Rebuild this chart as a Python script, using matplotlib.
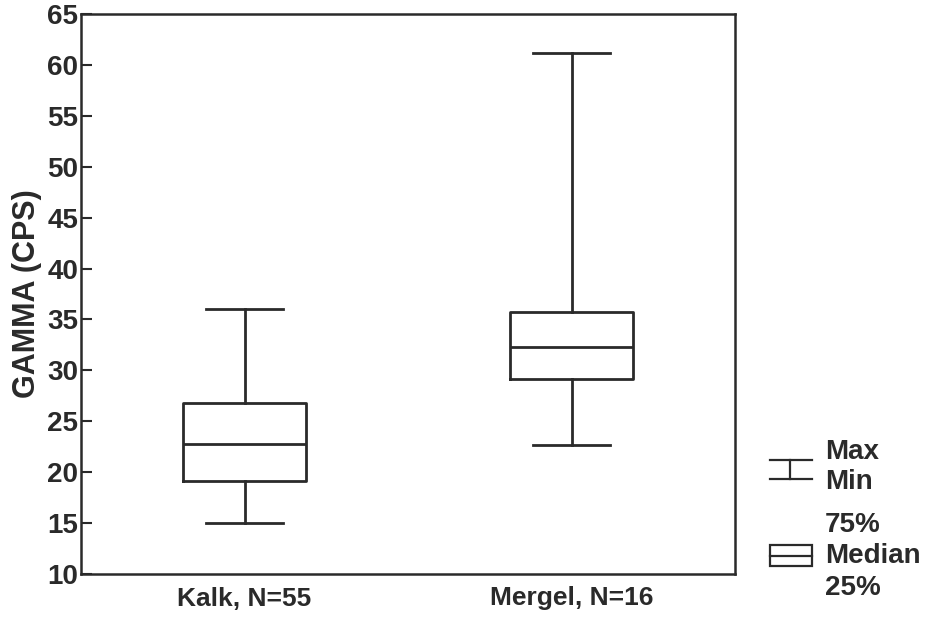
import matplotlib
matplotlib.use("Agg")
import matplotlib.pyplot as plt
from matplotlib.lines import Line2D
from matplotlib.patches import Rectangle

categories = ["Kalk, N=55", "Mergel, N=16"]
mins = [15.0, 22.7]
q1s = [19.15, 29.2]
medians = [22.8, 32.25]
q3s = [26.8, 35.75]
maxs = [36.0, 61.2]
yticks = [10, 15, 20, 25, 30, 35, 40, 45, 50, 55, 60, 65]

plt.rcParams['font.family'] = ['Liberation Sans', 'DejaVu Sans']
plt.rcParams['font.weight'] = 'bold'

fig = plt.figure(figsize=(9.31, 6.17), dpi=100)
W, H = 931, 617
ax = fig.add_axes([81 / W, 1 - 574 / H, (735 - 81) / W, (574 - 14) / H])

col = '#2a2a2a'
stats = []
for lab, lo, a, m, b, hi in zip(categories, mins, q1s, medians, q3s, maxs):
    stats.append(dict(label=lab, whislo=lo, q1=a, med=m, q3=b, whishi=hi, fliers=[]))

lp = dict(color=col, linewidth=2.0)
ax.bxp(stats, positions=[1, 2], widths=0.376, capwidths=0.235, showfliers=False,
       boxprops=lp, whiskerprops=lp, capprops=lp, medianprops=lp)

ax.set_xlim(0.5, 2.5)
ax.set_ylim(10, 65)
ax.set_yticks(yticks)
ax.set_yticklabels([str(t) for t in yticks], fontsize=20, fontweight='bold', color=col)
ax.set_xticks([1, 2])
ax.set_xticklabels(categories, fontsize=19, fontweight='bold', color=col)
ax.tick_params(axis='x', length=0, pad=9)
ax.tick_params(axis='y', direction='in', length=8, width=1.5, color=col, pad=2)
for s in ax.spines.values():
    s.set_linewidth(1.8)
    s.set_color(col)
ax.set_ylabel("GAMMA (CPS)", fontsize=22, fontweight='bold', color=col, labelpad=4)

# Legend (figure coordinates in pixels)
def fx(x):
    return x / W

def fy(y):
    return 1 - y / H

lw = 1.6
fig.add_artist(Line2D([fx(770), fx(812)], [fy(460), fy(460)], color=col, lw=lw))
fig.add_artist(Line2D([fx(770), fx(812)], [fy(479), fy(479)], color=col, lw=lw))
fig.add_artist(Line2D([fx(790), fx(790)], [fy(460), fy(479)], color=col, lw=lw))
fig.add_artist(Rectangle((fx(770), fy(566)), fx(812) - fx(770), fy(545) - fy(566),
                         transform=fig.transFigure, fill=False, edgecolor=col, lw=lw))
fig.add_artist(Line2D([fx(770), fx(812)], [fy(556), fy(556)], color=col, lw=lw))

tk = dict(fontsize=20, fontweight='bold', color=col, va='center', ha='left')
fig.text(fx(825), fy(452), "Max", **tk)
fig.text(fx(825), fy(482), "Min", **tk)
fig.text(fx(825), fy(525), "75%", **tk)
fig.text(fx(825), fy(556), "Median", **tk)
fig.text(fx(825), fy(588), "25%", **tk)

fig.savefig("out.png", dpi=100, facecolor='white')
